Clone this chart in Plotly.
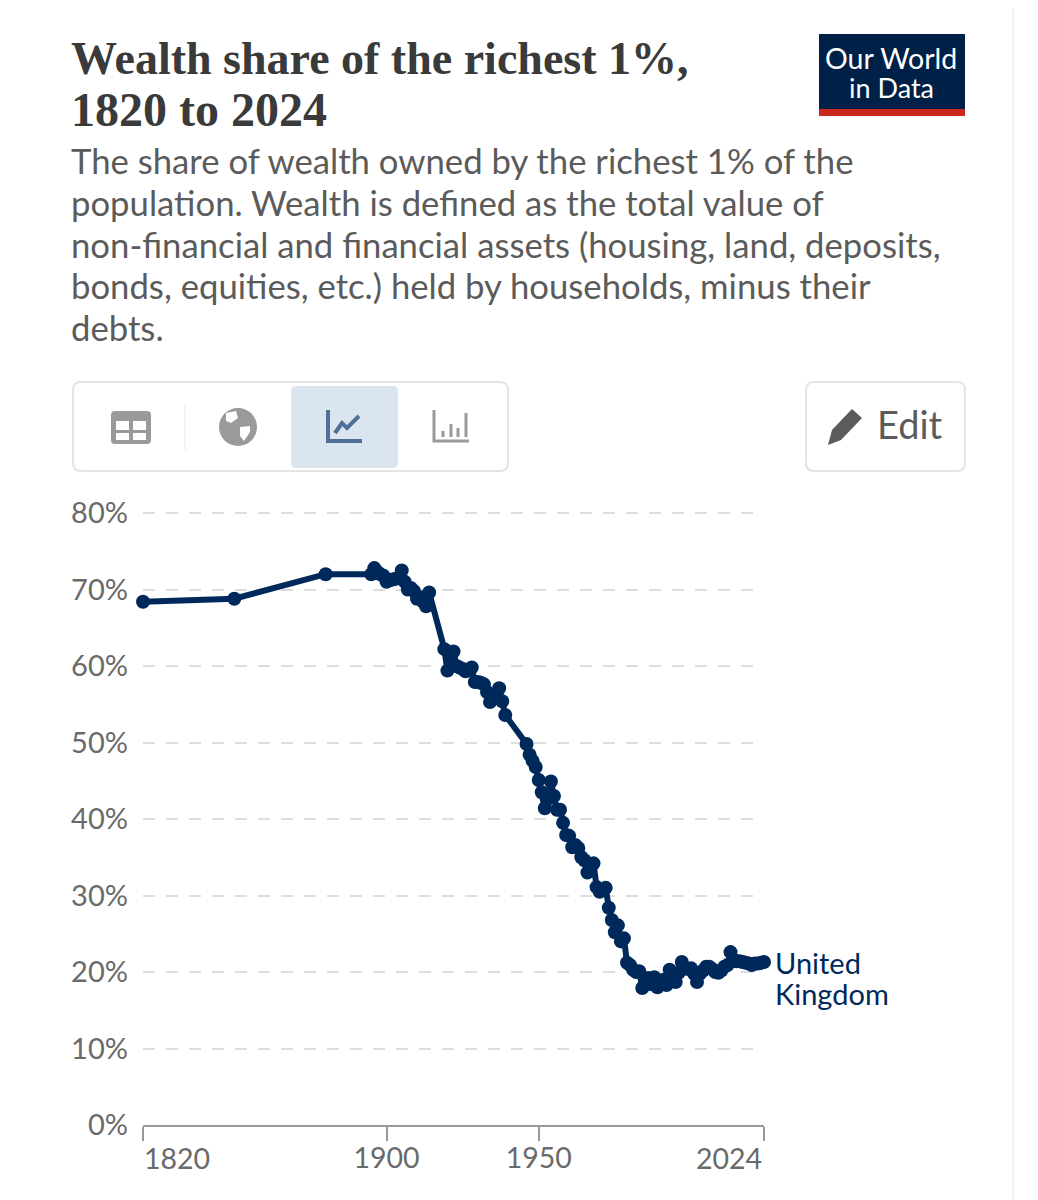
import plotly.graph_objects as go

W = 1038
H = 1200
# the page body adds a small offset round the plot div
OFF = 8

title_lines = ["Wealth share of the richest 1%,", "1820 to 2024"]
subtitle_lines = [
    "The share of wealth owned by the richest 1% of the",
    "population. Wealth is defined as the total value of",
    "non-financial and financial assets (housing, land, deposits,",
    "bonds, equities, etc.) held by households, minus their",
    "debts.",
]

years = [1820, 1850, 1880, 1895, 1896, 1897, 1898, 1899, 1900, 1901, 1902, 1903, 1904, 1905,
         1906, 1907, 1908, 1909, 1910, 1911, 1912, 1913, 1914, 1919, 1920, 1921, 1922, 1923,
         1924, 1925, 1926, 1927, 1928, 1929, 1930, 1931, 1932, 1933, 1934, 1935, 1936, 1937,
         1938, 1939, 1946, 1947, 1948, 1949, 1950, 1951, 1952, 1953, 1954, 1955, 1956, 1957,
         1958, 1959, 1960, 1961, 1962, 1963, 1964, 1965, 1966, 1967, 1968, 1969, 1970, 1971,
         1972, 1973, 1974, 1975, 1976, 1977, 1978, 1979, 1980, 1981, 1982, 1983, 1984, 1985,
         1986, 1987, 1988, 1989, 1990, 1991, 1992, 1993, 1994, 1995, 1996, 1997, 1998, 1999,
         2000, 2001, 2002, 2003, 2004, 2005, 2006, 2007, 2008, 2009, 2010, 2011, 2012, 2013,
         2014, 2015, 2016, 2017, 2018, 2019, 2020, 2021, 2022, 2023, 2024]
uk_share = [68.4, 68.8, 72.0, 72.0, 72.8, 72.3, 72.0, 71.8, 71.0, 71.2, 71.3, 71.4, 71.5, 72.5,
            71.0, 70.0, 70.2, 69.8, 68.8, 69.0, 68.4, 67.8, 69.6, 62.2, 59.4, 60.6, 61.9, 60.0,
            59.8, 59.6, 59.3, 59.5, 59.8, 57.9, 57.9, 57.8, 57.6, 56.6, 55.3, 55.8, 56.0, 57.1,
            55.4, 53.6, 49.8, 48.4, 47.6, 46.8, 45.1, 43.5, 41.4, 42.6, 44.9, 43.0, 41.2, 41.2,
            39.5, 37.9, 37.8, 36.3, 36.6, 36.2, 35.0, 34.6, 33.0, 33.6, 34.2, 31.1, 30.5, 30.8,
            31.0, 28.4, 26.8, 25.2, 26.1, 24.0, 24.4, 21.2, 20.9, 20.3, 20.0, 20.1, 17.9, 18.8,
            19.2, 18.4, 19.3, 18.0, 18.6, 19.0, 18.3, 20.3, 19.0, 18.7, 19.9, 21.3, 20.6, 20.4,
            20.5, 19.8, 18.7, 19.8, 20.2, 20.7, 20.7, 20.4, 20.0, 19.9, 20.2, 20.7, 20.9, 22.6,
            21.6, 21.4, 21.4, 21.3, 21.2, 21.1, 20.9, 21.1, 21.1, 21.2, 21.3]

y_ticks = [0, 10, 20, 30, 40, 50, 60, 70, 80]
y_labels = ["0%", "10%", "20%", "30%", "40%", "50%", "60%", "70%", "80%"]
x_ticks = [1820, 1900, 1950, 2024]
x_labels = ["", "1900", "1950", ""]

NAVY = "#00295b"
GREY_TXT = "#6a6a6a"


def px(x):
    return (x - OFF) / W


def py(y):
    return 1 - (y - OFF) / H


def label(text, x, y, size, color, family="Lato", anchor="left", weight=None):
    return dict(text=text, x=px(x), y=py(y), xref="paper", yref="paper", showarrow=False,
                xanchor=anchor, yanchor="middle", xshift=-1,
                font=dict(family=family, size=size, color=color, weight=weight))


def box(x0, y0, x1, y1, fill=None, line=None, lw=2):
    return dict(type="rect", xref="paper", yref="paper", x0=px(x0), y0=py(y0), x1=px(x1), y1=py(y1),
                fillcolor=fill or "rgba(0,0,0,0)", line=dict(color=line or "rgba(0,0,0,0)", width=lw if line else 0))


def poly(points, fill=None, line=None, lw=2, closed=True):
    d = "M " + " L ".join(f"{px(a):.5f} {py(b):.5f}" for a, b in points)
    if closed:
        d += " Z"
    return dict(type="path", path=d, xref="paper", yref="paper",
                fillcolor=fill or "rgba(0,0,0,0)", line=dict(color=line or "rgba(0,0,0,0)", width=lw if line else 0))


def rounded(x0, y0, x1, y1, r=8, fill="#ffffff", line="#e4e4e4"):
    return dict(type="path", xref="paper", yref="paper", line=dict(color=line, width=2), fillcolor=fill,
                path=f"M {px(x0 + r)} {py(y0)} L {px(x1 - r)} {py(y0)} Q {px(x1)} {py(y0)} {px(x1)} {py(y0 + r)} "
                     f"L {px(x1)} {py(y1 - r)} Q {px(x1)} {py(y1)} {px(x1 - r)} {py(y1)} L {px(x0 + r)} {py(y1)} "
                     f"Q {px(x0)} {py(y1)} {px(x0)} {py(y1 - r)} L {px(x0)} {py(y0 + r)} Q {px(x0)} {py(y0)} {px(x0 + r)} {py(y0)} Z")


fig = go.Figure()
fig.add_trace(go.Scatter(x=years, y=uk_share, mode="lines+markers", cliponaxis=False,
                         line=dict(color=NAVY, width=6), marker=dict(color=NAVY, size=14),
                         name="United Kingdom", showlegend=False))

annotations = []
annotations.append(label(title_lines[0], 70, 59, 46, "#3a3a3a", family="Liberation Serif", weight="bold"))
annotations.append(label(title_lines[1], 70, 109, 48, "#3a3a3a", family="Liberation Serif", weight="bold"))
for i, line_text in enumerate(subtitle_lines):
    annotations.append(label(line_text, 70, 161 + i * 41.5, 34.7, "#5b5b5b"))

annotations.append(label("Our World", 892, 58, 28.5, "#ffffff", anchor="center"))
annotations.append(label("in Data", 892, 88, 27, "#ffffff", anchor="center"))
annotations.append(label("Edit", 876, 424, 38, "#5b5b5b"))

annotations.append(label("United", 774, 962, 29, NAVY))
annotations.append(label("Kingdom", 774, 993, 29, NAVY))

# end tick labels sit inside the axis span
annotations.append(dict(text="1820", x=1820, y=0, xref="x", yref="y", showarrow=False, xanchor="left",
                        yanchor="top", xshift=-1, yshift=-14, font=dict(family="Lato", size=28.5, color=GREY_TXT)))
annotations.append(dict(text="2024", x=2024, y=0, xref="x", yref="y", showarrow=False, xanchor="right",
                        yanchor="top", xshift=0, yshift=-14, font=dict(family="Lato", size=28.5, color=GREY_TXT)))

shapes = [
    poly([(1013, 0), (1013, 1200)], line="#f2f2f2", lw=2, closed=False),
    # logo
    box(819, 34, 965, 109, fill="#002147"),
    box(819, 109, 965, 116, fill="#c8281e"),
    # toolbar
    rounded(73, 382, 508, 471),
    rounded(806, 382, 965, 471),
    rounded(292, 387, 397, 467, r=4, fill="#dbe5f0", line="#dbe5f0"),
    poly([(185, 405), (185, 450)], line="#e8e8e8", lw=1, closed=False),
    # table icon
    rounded(112, 412, 150, 443, r=3, fill="#9a9a9a", line="#9a9a9a"),
    box(116, 421, 129, 430, fill="#ffffff"),
    box(133, 421, 146, 430, fill="#ffffff"),
    box(116, 433, 129, 440, fill="#ffffff"),
    box(133, 433, 146, 440, fill="#ffffff"),
    # globe icon
    dict(type="circle", xref="paper", yref="paper", x0=px(219), x1=px(257), y0=py(408), y1=py(446),
         fillcolor="#9a9a9a", line=dict(width=0)),
    poly([(226, 413), (236, 411), (238, 418), (231, 423), (226, 421)], fill="#ffffff"),
    poly([(240, 427), (250, 426), (250, 432), (244, 441), (240, 436)], fill="#ffffff"),
    # line chart icon
    poly([(328, 410), (328, 441), (362, 441)], line="#4e6f98", lw=4, closed=False),
    poly([(335, 433), (342, 423), (347, 428), (359, 416)], line="#4e6f98", lw=4, closed=False),
    # bar chart icon
    poly([(434, 410), (434, 441), (469, 441)], line="#9a9a9a", lw=3, closed=False),
    poly([(443, 431), (443, 437)], line="#9a9a9a", lw=3, closed=False),
    poly([(451, 424), (451, 437)], line="#9a9a9a", lw=3, closed=False),
    poly([(458, 428), (458, 437)], line="#9a9a9a", lw=3, closed=False),
    poly([(466, 413), (466, 437)], line="#9a9a9a", lw=3, closed=False),
    # pencil icon
    poly([(828, 445), (832, 430), (852, 409), (862, 418), (841, 440)], fill="#5b5b5b"),
]

fig.update_layout(
    width=W, height=H,
    margin=dict(l=0, r=0, t=0, b=0, autoexpand=False),
    paper_bgcolor="#ffffff", plot_bgcolor="rgba(0,0,0,0)",
    font=dict(family="Lato", color=GREY_TXT),
    annotations=annotations, shapes=shapes,
    showlegend=False,
    xaxis=dict(domain=[px(143), px(764)], range=[1820, 2024], tickvals=x_ticks, ticktext=x_labels,
               automargin=False, showgrid=False, zeroline=False, showline=True, linecolor="#999999", linewidth=2,
               ticks="outside", ticklen=14, tickwidth=2, tickcolor="#999999", ticklabelstandoff=-7,
               tickfont=dict(family="Lato", size=28.5, color=GREY_TXT)),
    # a little headroom over 80 so the top gridline is kept
    yaxis=dict(domain=[py(1125), py(513 - 0.4 * 7.65)], range=[0, 80.4], tickvals=y_ticks, ticktext=y_labels,
               automargin=False, showgrid=True, gridcolor="#dddddd", gridwidth=2, griddash="12px,11px",
               zeroline=False, showline=False, ticks="", ticklabelstandoff=14,
               tickfont=dict(family="Lato", size=29, color=GREY_TXT)),
)

fig.write_html("out.html")
